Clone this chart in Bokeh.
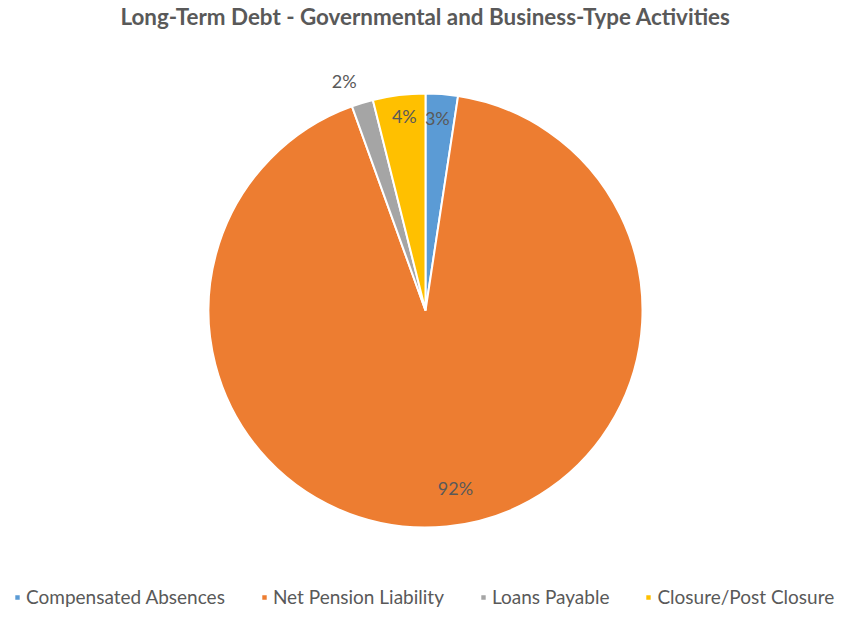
import math
from bokeh.plotting import figure
from bokeh.models import Range1d, ColumnDataSource, Legend, LegendItem, Label
from bokeh.embed import file_html
from bokeh.resources import INLINE

categories = ["Compensated Absences", "Net Pension Liability", "Loans Payable", "Closure/Post Closure"]
shares = [2.4, 92.1, 1.6, 3.9]
labels = ["3%", "92%", "2%", "4%"]
colors = ["#5B9BD5", "#ED7D31", "#A5A5A5", "#FFC000"]

FONT = "Lato"
W, H = 841, 609
CX, CY, R = 425, 299, 217

total = sum(shares)
starts, ends, mids = [], [], []
c = 0.0
for s in shares:
    a0 = math.pi / 2 - 2 * math.pi * c / total
    c += s
    a1 = math.pi / 2 - 2 * math.pi * c / total
    starts.append(a0)
    ends.append(a1)
    mids.append((a0 + a1) / 2)

src = ColumnDataSource(dict(start=starts, end=ends, color=colors, cat=categories))

p = figure(width=W, height=H, output_backend="svg", toolbar_location=None,
           x_range=Range1d(0, W), y_range=Range1d(0, H), min_border=0)
p.axis.visible = False
p.grid.visible = False
p.outline_line_color = None
p.background_fill_color = "white"

r = p.wedge(x=CX, y=CY, radius=R, start_angle="start", end_angle="end",
            direction="clock", fill_color="color", line_color="white",
            line_width=2, source=src)

# data label placement (radius factor, angular offset in degrees, clockwise positive)
label_r = [0.89, 0.83, 1.12, 0.90]
label_da = [-0.8, -4.0, -2.6, 0.8]
for i, t in enumerate(labels):
    ang = mids[i] - math.radians(label_da[i])
    rr = R * label_r[i]
    p.add_layout(Label(x=CX + rr * math.cos(ang), y=CY + rr * math.sin(ang), text=t,
                       text_align="center", text_baseline="middle",
                       text_font=FONT, text_font_size="18px", text_color="#595959"))

p.add_layout(Label(x=425, y=H - 2, text="Long-Term Debt - Governmental and Business-Type Activities",
                   text_align="center", text_baseline="top", text_font=FONT,
                   text_font_size="22.4px", text_font_style="bold", text_color="#595959"))

items = [LegendItem(label=categories[i], renderers=[r], index=i) for i in range(4)]
legend = Legend(items=items, orientation="horizontal", location=(13, 1),
                glyph_width=8, glyph_height=8, label_standoff=5, spacing=35,
                padding=0, margin=0, border_line_color=None, background_fill_alpha=0,
                label_text_font=FONT, label_text_font_size="19px", label_text_color="#595959")
p.add_layout(legend)

open("out.html", "w").write(file_html(p, INLINE))
